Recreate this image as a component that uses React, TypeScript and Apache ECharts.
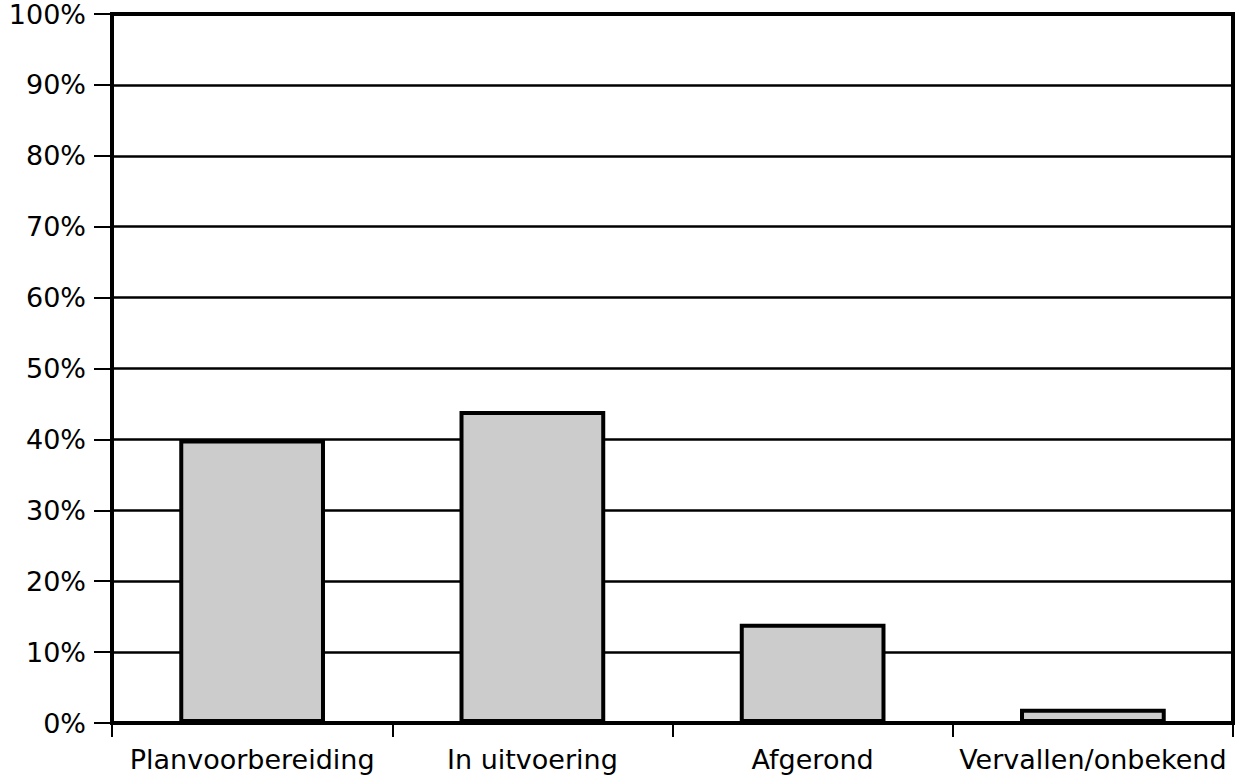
import React, { useEffect, useRef } from "react";
import * as echarts from "echarts";

const categories = ["Planvoorbereiding", "In uitvoering", "Afgerond", "Vervallen/onbekend"];
const values = [40, 44, 14, 2];
const yMin = 0;
const yMax = 100;
const yInterval = 10;

const FONT = "DejaVu Sans";

export default function App() {
  const ref = useRef<HTMLDivElement>(null);
  useEffect(() => {
    if (!ref.current) return;
    const chart = echarts.init(ref.current, undefined, { renderer: "svg" });
    chart.setOption({
      animation: false,
      backgroundColor: "#ffffff",
      grid: {
        left: 112,
        right: 4,
        top: 14,
        bottom: 55,
        show: true,
        borderColor: "#000",
        borderWidth: 4,
        backgroundColor: "transparent",
      },
      xAxis: {
        type: "category",
        data: categories,
        axisLine: { show: true, lineStyle: { color: "#000", width: 4 } },
        axisTick: { show: true, length: 14, lineStyle: { color: "#000", width: 2 } },
        axisLabel: {
          color: "#000",
          fontFamily: FONT,
          fontSize: 27,
          margin: 23,
          interval: 0,
        },
        splitLine: { show: false },
      },
      yAxis: {
        type: "value",
        min: yMin,
        max: yMax,
        interval: yInterval,
        axisLine: { show: true, lineStyle: { color: "#000", width: 4 } },
        axisTick: { show: true, length: 18, lineStyle: { color: "#000", width: 2 } },
        axisLabel: {
          color: "#000",
          fontFamily: FONT,
          fontSize: 27,
          margin: 26,
          formatter: "{value}%",
        },
        splitLine: { show: true, lineStyle: { color: "#000", width: 2.5 } },
      },
      series: [
        {
          type: "bar",
          data: values,
          barWidth: "52%",
          itemStyle: { color: "#cccccc", borderColor: "#000", borderWidth: 4 },
        },
      ],
    });
    return () => chart.dispose();
  }, []);
  return <div ref={ref} style={{ width: 1237, height: 778, position: "fixed", left: 0, top: 0 }} />;
}
